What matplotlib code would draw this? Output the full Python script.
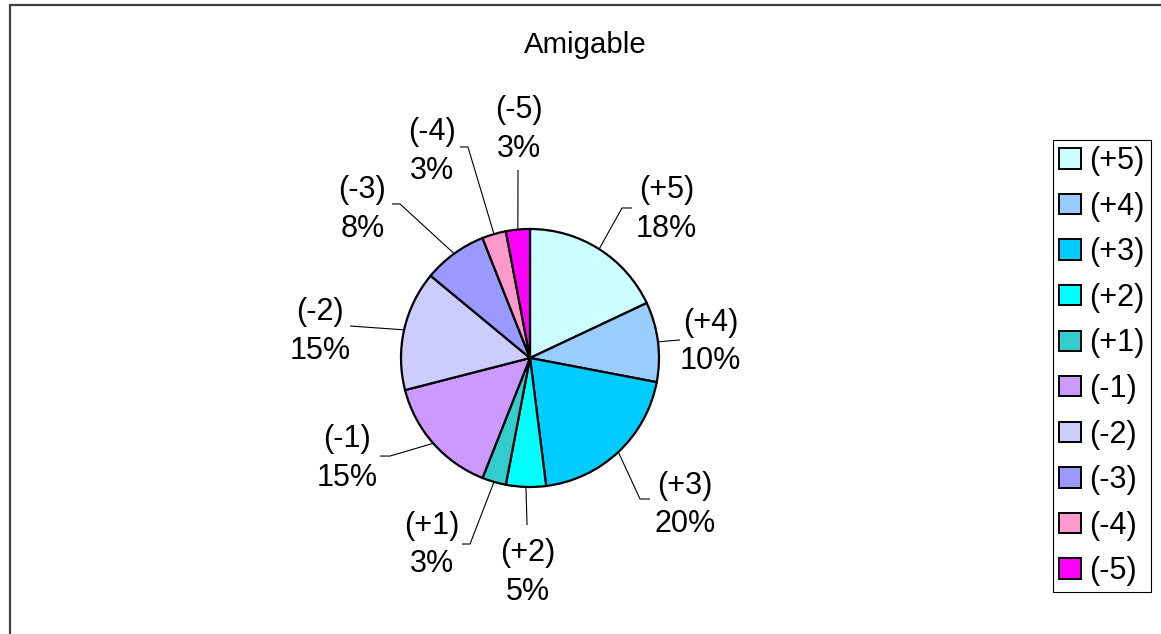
import matplotlib
matplotlib.use("Agg")
import matplotlib.pyplot as plt
from matplotlib.patches import Rectangle
import numpy as np

plt.rcParams["font.family"] = ["Liberation Sans", "DejaVu Sans"]

# --- data -------------------------------------------------------------
title = "Amigable"
categories = ["(+5)", "(+4)", "(+3)", "(+2)", "(+1)",
              "(-1)", "(-2)", "(-3)", "(-4)", "(-5)"]
shares = [18, 10, 20, 5, 3, 15, 15, 8, 3, 3]
colors = ["#CCFFFF", "#99CCFF", "#00CCFF", "#00FFFF", "#33CCCC",
          "#CC99FF", "#CCCCFF", "#9999FF", "#FF99CC", "#FF00FF"]

# --- label layout (pie radius = 1) --------------------------------------
label_pos = [(1.06, 1.15), (1.40, 0.125), (1.20, -1.14), (-0.016, -1.66),
             (-0.76, -1.45), (-1.42, -0.78), (-1.63, 0.203), (-1.30, 1.15),
             (-0.76, 1.60), (-0.085, 1.77)]
elbow_pos = [(0.713, 1.163), (1.163, 0.140), (0.853, -1.093), (-0.023, -1.295),
             (-0.465, -1.442), (-1.085, -0.76), (-1.395, 0.248), (-1.008, 1.194),
             (-0.481, 1.636), (-0.093, 1.457)]
tail_x = [0.791, 1.163, 0.930, -0.023, -0.527, -1.163, -1.395, -1.070,
          -0.543, -0.093]

W, H = 1161, 634
fig = plt.figure(figsize=(W / 100, H / 100), dpi=100)
fig.patch.set_facecolor("white")

# outer chart frame (only top and left edges fall inside the image)
fig.add_artist(Rectangle((10 / W, -0.1), 1.2, 1 - 5 / H + 0.1,
                         transform=fig.transFigure, fill=False,
                         edgecolor="#404040", linewidth=1.6))

cx, cy, r = 530, 358, 129
ax = fig.add_axes([(cx - r) / W, (H - cy - r) / H, 2 * r / W, 2 * r / H])
wedges, _ = ax.pie(shares, colors=colors, startangle=90, counterclock=False,
                   radius=1.0,
                   wedgeprops=dict(edgecolor="black", linewidth=1.6))
ax.set_xlim(-1, 1)
ax.set_ylim(-1, 1)
ax.set_aspect("equal")
ax.axis("off")

total = float(sum(shares))
fs = 22
for w, cat, v, (tx, ty), (ex, ey), hx in zip(wedges, categories, shares,
                                             label_pos, elbow_pos, tail_x):
    mid = np.deg2rad((w.theta1 + w.theta2) / 2)
    ax_, ay_ = np.cos(mid), np.sin(mid)
    ax.plot([ax_, ex, hx], [ay_, ey, ey], color="black", linewidth=0.8,
            clip_on=False, solid_capstyle="butt")
    ax.text(tx, ty, f"{cat}\n{v / total * 100:.0f}%", ha="center",
            va="center", fontsize=fs, linespacing=1.38, clip_on=False)

fig.text(585 / W, 1 - 53 / H, title, ha="center", va="baseline",
         fontsize=21.2)

leg = fig.legend(wedges, categories, loc="upper left",
                 bbox_to_anchor=(1053 / W, 1 - 140 / H),
                 bbox_transform=fig.transFigure, fontsize=fs,
                 frameon=True, fancybox=False, shadow=False, framealpha=1,
                 edgecolor="black", handlelength=0.72, handleheight=0.65,
                 handletextpad=0.26, labelspacing=0.51, borderpad=0.2,
                 borderaxespad=0)
leg.get_frame().set_linewidth(0.8)
for h in leg.legend_handles:
    h.set_edgecolor("black")
    h.set_linewidth(1.4)

fig.savefig("out.png", dpi=100, facecolor="white")
